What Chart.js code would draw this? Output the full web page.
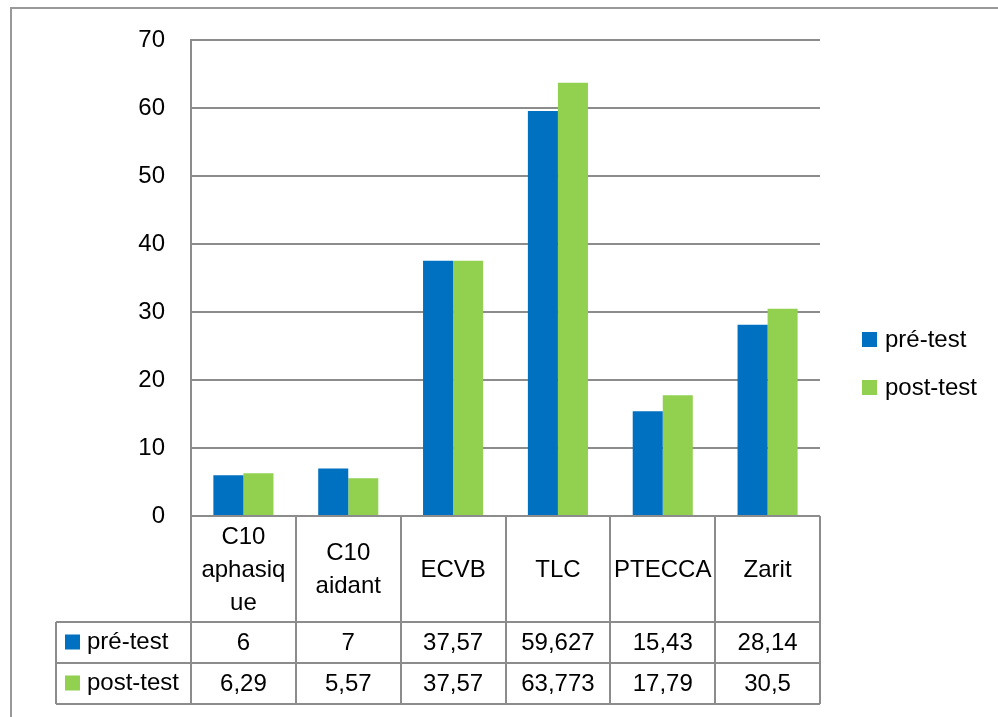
<!DOCTYPE html>
<html>
<head>
<meta charset="utf-8">
<title>pré-test / post-test</title>
<script src="https://cdn.jsdelivr.net/npm/chart.js@4/dist/chart.umd.min.js"></script>
<style>
    body { margin: 0; background: #fff; overflow: hidden; }
    #wrap { position: relative; width: 998px; height: 717px; }
</style>
</head>
<body>
<div id="wrap"><canvas id="chart"></canvas></div>
<script>
// categories (wrapped as in the table cells)
const categories = [['C10', 'aphasiq', 'ue'], ['C10', 'aidant'], ['ECVB'], ['TLC'], ['PTECCA'], ['Zarit']];
const seriesNames = ['pré-test', 'post-test'];
const preTest = [6, 7, 37.57, 59.627, 15.43, 28.14];
const postTest = [6.29, 5.57, 37.57, 63.773, 17.79, 30.5];
const yMin = 0, yMax = 70, yStep = 10;

const colors = ['#0070C0', '#92D050'];
const lineColor = '#8c8c8c';
const FONT = '24px "Liberation Sans", Arial, sans-serif';

function fmt(v) {
    return String(v).replace('.', ',');
}

// frame round the whole chart
const frame = {
    id: 'frame',
    beforeDraw(chart) {
        const ctx = chart.ctx;
        ctx.save();
        ctx.strokeStyle = '#999';
        ctx.lineWidth = 2;
        ctx.beginPath();
        ctx.moveTo(11, 717);
        ctx.lineTo(11, 8);
        ctx.lineTo(998, 8);
        ctx.stroke();
        ctx.restore();
    }
};

// data table under the x axis + legend on the right
const dataTable = {
    id: 'dataTable',
    afterDraw(chart) {
        const ctx = chart.ctx;
        const area = chart.chartArea;
        const x = chart.scales.x;
        const n = categories.length;
        const colW = (area.right - area.left) / n;
        const catRowH = 106, valRowH = 41;
        const top = area.bottom;
        const r1 = top + catRowH, r2 = r1 + valRowH, r3 = r2 + valRowH;
        const tableLeft = 56;

        ctx.save();
        ctx.strokeStyle = lineColor;
        ctx.lineWidth = 2;
        ctx.beginPath();
        // horizontal lines
        ctx.moveTo(area.left, top); ctx.lineTo(area.right, top);
        [r1, r2, r3].forEach(y => { ctx.moveTo(tableLeft, y); ctx.lineTo(area.right, y); });
        // vertical lines
        for (let i = 0; i <= n; i++) {
            const cx = Math.round(area.left + i * colW);
            ctx.moveTo(cx, top); ctx.lineTo(cx, r3);
        }
        ctx.moveTo(tableLeft, r1); ctx.lineTo(tableLeft, r3);
        ctx.stroke();

        ctx.fillStyle = '#000';
        ctx.font = FONT;
        ctx.textAlign = 'center';
        ctx.textBaseline = 'middle';
        const lineH = 33;
        categories.forEach((lines, i) => {
            const cx = x.getPixelForValue(i);
            const cy = top + catRowH / 2 + 1;
            lines.forEach((t, k) => {
                ctx.fillText(t, cx, cy + (k - (lines.length - 1) / 2) * lineH);
            });
        });

        const rows = [preTest, postTest];
        const rowY = [r1 + valRowH / 2, r2 + valRowH / 2];
        rows.forEach((vals, s) => {
            ctx.textAlign = 'center';
            ctx.fillStyle = '#000';
            vals.forEach((v, i) => ctx.fillText(fmt(v), x.getPixelForValue(i), rowY[s] + 1));
            // row header with key
            ctx.fillStyle = colors[s];
            ctx.fillRect(65, rowY[s] - 8, 15, 15);
            ctx.fillStyle = '#000';
            ctx.textAlign = 'left';
            ctx.fillText(seriesNames[s], 87, rowY[s]);
        });

        // legend
        const legY = [340, 388];
        seriesNames.forEach((name, s) => {
            ctx.fillStyle = colors[s];
            ctx.fillRect(862, legY[s] - 8, 15, 15);
            ctx.fillStyle = '#000';
            ctx.textAlign = 'left';
            ctx.fillText(name, 885, legY[s]);
        });
        ctx.restore();
    }
};

new Chart(document.getElementById('chart'), {
    type: 'bar',
    data: {
        labels: categories,
        datasets: [
            { label: seriesNames[0], data: preTest, backgroundColor: colors[0] },
            { label: seriesNames[1], data: postTest, backgroundColor: colors[1] }
        ]
    },
    options: {
        responsive: true,
        maintainAspectRatio: false,
        animation: false,
        datasets: {
            bar: { categoryPercentage: 0.573, barPercentage: 1 }
        },
        layout: { padding: { top: 36, right: 178, bottom: 201, left: 0 } },
        plugins: {
            legend: { display: false },
            tooltip: { enabled: false }
        },
        scales: {
            x: { display: false },
            y: {
                min: yMin,
                max: yMax,
                afterFit(scale) { scale.width = 191; },
                ticks: {
                    stepSize: yStep,
                    padding: 26,
                    color: '#000',
                    font: { family: '"Liberation Sans", Arial, sans-serif', size: 24 }
                },
                grid: { color: lineColor, lineWidth: 2, drawTicks: false },
                border: { display: true, color: lineColor, width: 2 }
            }
        }
    },
    plugins: [frame, dataTable]
});
</script>
</body>
</html>
